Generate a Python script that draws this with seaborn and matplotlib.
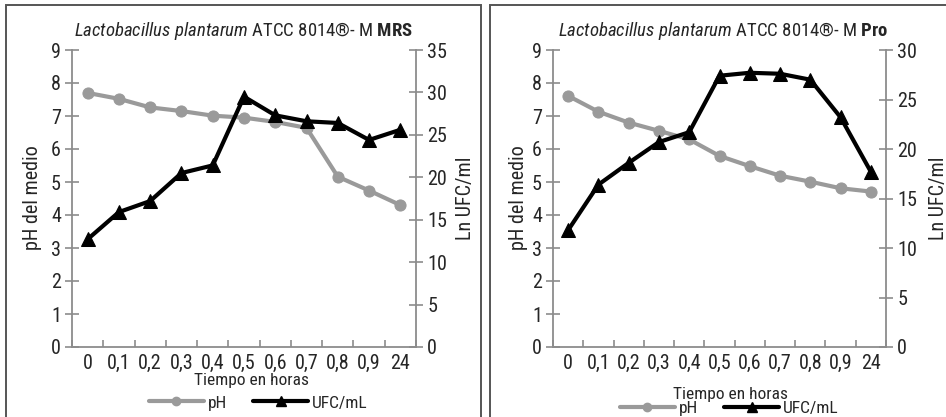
import matplotlib
matplotlib.use("Agg")
import matplotlib.pyplot as plt
import seaborn as sns
import pandas as pd
from matplotlib.lines import Line2D
from matplotlib.patches import Rectangle
from matplotlib import font_manager

sns.set_style("white")
names = {f.name for f in font_manager.fontManager.ttflist}
prefs = ["Roboto Condensed", "Archivo Narrow", "PT Sans Narrow", "IBM Plex Sans Condensed",
         "Fira Sans Condensed", "Encode Sans Condensed", "Asap Condensed",
         "Liberation Sans Narrow", "Liberation Sans"]
FAM = next(f for f in prefs if f in names)
plt.rcParams['font.family'] = [FAM, 'DejaVu Sans']
plt.rcParams['mathtext.fontset'] = 'custom'
plt.rcParams['mathtext.rm'] = FAM
plt.rcParams['mathtext.it'] = FAM + ':italic'
plt.rcParams['mathtext.bf'] = FAM + ':bold'

tiempo = ["0", "0,1", "0,2", "0,3", "0,4", "0,5", "0,6", "0,7", "0,8", "0,9", "24"]

ph_mrs = [7.7, 7.52, 7.26, 7.15, 7.01, 6.95, 6.82, 6.64, 5.16, 4.74, 4.30]
ufc_mrs = [12.7, 15.9, 17.2, 20.5, 21.4, 29.5, 27.3, 26.6, 26.4, 24.4, 25.6]

ph_pro = [7.61, 7.13, 6.80, 6.55, 6.29, 5.79, 5.48, 5.19, 5.01, 4.81, 4.71]
ufc_pro = [11.8, 16.4, 18.6, 20.7, 21.7, 27.4, 27.7, 27.6, 27.0, 23.2, 17.7]

W, H = 946, 417
fig = plt.figure(figsize=(W / 100, H / 100), dpi=100)

GRAY = "#9a9a9a"
SPINE = "#8c8c8c"

# panel boxes
for x0, x1 in [(6, 481), (490, 960)]:
    fig.patches.append(Rectangle((x0 / W, -0.05), (x1 - x0) / W, 1 - 5 / H + 0.05,
                                 transform=fig.transFigure, fill=False,
                                 edgecolor="#555555", linewidth=1.4))

panels = [
    dict(ph=ph_mrs, ufc=ufc_mrs, l=72, r=416, ymax2=35, name="MRS",
         ylab_x=33, ylab2_x=465, xlab_y=381, xlab_x=251, leg_y=403, leg_x=258, title_x=243),
    dict(ph=ph_pro, ufc=ufc_pro, l=553, r=886, ymax2=30, name="Pro",
         ylab_x=518, ylab2_x=938, xlab_y=394, xlab_x=730, leg_y=408, leg_x=729, title_x=723),
]

TICK = 14.5
for p in panels:
    ax = fig.add_axes([p["l"] / W, 1 - 347 / H, (p["r"] - p["l"]) / W, (347 - 50) / H])
    ax2 = ax.twinx()
    df = pd.DataFrame({"idx": range(len(tiempo)), "pH": p["ph"], "UFC": p["ufc"]})
    sns.lineplot(data=df, x="idx", y="pH", ax=ax, color=GRAY, linewidth=3,
                 marker="o", markersize=8, markeredgecolor=GRAY, zorder=3)
    sns.lineplot(data=df, x="idx", y="UFC", ax=ax2, color="black", linewidth=3,
                 marker="^", markersize=10, markeredgecolor="black", zorder=4)
    ax.set_xlim(-0.5, len(tiempo) - 0.5)
    ax.set_ylim(0, 9)
    ax2.set_ylim(0, p["ymax2"])
    ax.set_yticks(range(0, 10))
    ax2.set_yticks(range(0, p["ymax2"] + 1, 5))
    ax.set_xticks(range(len(tiempo)))
    ax.set_xticklabels(tiempo)
    ax.set_xticks([i - 0.5 for i in range(len(tiempo) + 1)], minor=True)
    ax.tick_params(axis="x", which="major", length=0, labelsize=TICK, pad=5)
    ax.tick_params(axis="x", which="minor", length=5, direction="in",
                   color=SPINE, width=1.2, bottom=True)
    ax.tick_params(axis="y", length=10, direction="inout", color=SPINE, width=1.2,
                   labelsize=TICK, left=True, pad=3)
    ax2.tick_params(axis="y", length=10, direction="inout", color=SPINE, width=1.2,
                    labelsize=TICK, right=True, pad=3)
    for a in (ax, ax2):
        a.spines["top"].set_visible(False)
        for s in ["left", "right", "bottom"]:
            a.spines[s].set_color(SPINE)
            a.spines[s].set_linewidth(1.3)
    ax.spines["right"].set_visible(False)
    ax2.spines["left"].set_visible(False)
    ax2.spines["bottom"].set_visible(False)
    ax.set_xlabel("")
    ax.set_ylabel("")
    ax2.set_ylabel("")
    fig.text(p["ylab_x"] / W, 1 - 198 / H, "pH del medio", rotation=90,
             ha="center", va="center", fontsize=14.5)
    fig.text(p["ylab2_x"] / W, 1 - 198 / H, "Ln UFC/ml", rotation=90,
             ha="center", va="center", fontsize=14.5)
    fig.text(p["xlab_x"] / W, 1 - p["xlab_y"] / H, "Tiempo en horas",
             ha="center", va="center", fontsize=12.5)
    fig.text(p["title_x"] / W, 1 - 31 / H,
             r"$\it{Lactobacillus\ plantarum}$" + " ATCC 8014®- M " + r"$\bf{" + p["name"] + "}$",
             ha="center", va="center", fontsize=13.5)
    handles = [Line2D([], [], color=GRAY, lw=3, marker="o", markersize=6),
               Line2D([], [], color="black", lw=3, marker="^", markersize=7)]
    fig.legend(handles, ["pH", "UFC/mL"], loc="center",
               bbox_to_anchor=(p["leg_x"] / W, 1 - p["leg_y"] / H), ncol=2,
               frameon=False, fontsize=12.5, handlelength=3.2, handletextpad=0.2,
               columnspacing=1.5, borderpad=0)

fig.savefig("out.png", dpi=100)
